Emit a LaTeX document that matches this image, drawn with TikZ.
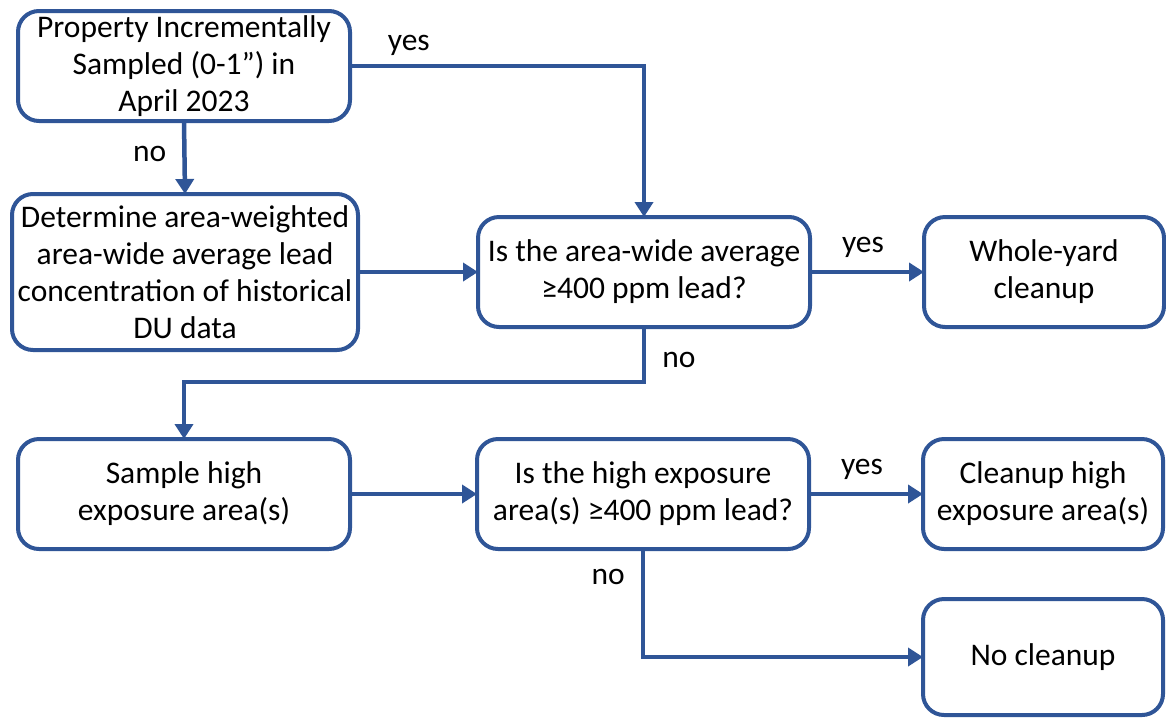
\documentclass[tikz,border=0pt]{standalone}
\usepackage{fontspec}
\setmainfont{Carlito}
\usetikzlibrary{positioning,arrows.meta}
\definecolor{flowblue}{HTML}{2F5597}

\begin{document}
\begin{tikzpicture}[
        x=1pt, y=-1pt,
        font=\fontsize{31.5}{37}\selectfont,
        >={Triangle[length=15pt,width=18pt]},
        stepbox/.style={
            rectangle,
            rounded corners=21pt,
            draw=flowblue,
            line width=4pt,
            fill=white,
            align=center,
            outer sep=0pt,
            inner sep=1pt,
            minimum height=110pt,
            minimum width=#1
        },
        flow/.style={->, line width=4.5pt, draw=flowblue},
        lab/.style={inner sep=0pt}
    ]

        % Frame of the page
        \useasboundingbox (0,0) rectangle (1166,721);
        \clip (0,0) rectangle (1166,721);

        % Left column
        \node[stepbox=332pt] (sampled) at (184,66)
            {Property Incrementally\\Sampled (0-1”) in\\April 2023};
        \node[stepbox=346pt, minimum height=156pt, below=73pt of sampled, xshift=1pt] (histavg)
            {Determine area-weighted\\area-wide average lead\\concentration of historical\\DU data};
        \node[stepbox=332pt, below=89pt of histavg, xshift=-1pt] (highexp)
            {Sample high\\exposure area(s)};

        % Decisions
        \node[stepbox=332pt, right=120pt of histavg] (avgtest)
            {Is the area-wide average\\≥400 ppm lead?};
        \node[stepbox=332pt, right=127pt of highexp] (hightest)
            {Is the high exposure\\area(s) ≥400 ppm lead?};

        % Outcomes
        \node[stepbox=240pt, right=114pt of avgtest] (wholeyard)
            {Whole-yard\\cleanup};
        \node[stepbox=240pt, right=114pt of hightest] (highclean)
            {Cleanup high\\exposure area(s)};
        \node[stepbox=240pt, minimum height=116pt, below=50pt of highclean] (noclean)
            {No cleanup};

        % Arrows
        \draw[flow] (sampled.east) -| node[lab, pos=0.1, above=8pt] {yes} (avgtest.north);
        \draw[flow] (sampled.south) -- node[lab, pos=0.45, left=16pt] {no} (histavg.north);
        \draw[flow] (histavg.east) -- (avgtest.west);
        \draw[flow] (avgtest.east) -- node[lab, midway, above=12pt, xshift=-4pt] {yes} (wholeyard.west);
        \draw[flow] (avgtest.south) -- node[lab, pos=0.6, right=16pt] {no} ++(0,55) -| (highexp.north);
        \draw[flow] (highexp.east) -- (hightest.west);
        \draw[flow] (hightest.east) -- node[lab, midway, above=12pt, xshift=-4pt] {yes} (highclean.west);
        \draw[flow] (hightest.south) |- node[lab, pos=0.13, left=16pt] {no} (noclean.west);

    \end{tikzpicture}
\end{document}
